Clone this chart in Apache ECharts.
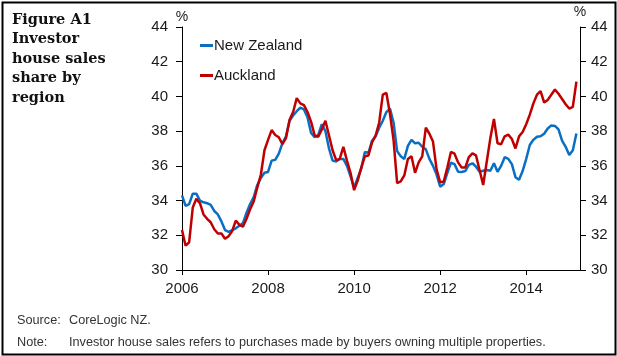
<!DOCTYPE html>
<html><head><meta charset="utf-8">
<script src="https://cdn.jsdelivr.net/npm/echarts@6/dist/echarts.min.js"></script>
<style>html,body{margin:0;padding:0;background:#fff}#c{width:617px;height:356px}</style>
</head><body><div id="c"></div>
<script>
// Monthly data, Jan 2006 .. Mar 2015
const startYear = 2006;
const titleLines = ['Figure A1', 'Investor', 'house sales', 'share by', 'region'];
const yearTicks = [2006, 2008, 2010, 2012, 2014];
const yTicks = [30, 32, 34, 36, 38, 40, 42, 44];
const newZealand = [
  34.3, 33.7, 33.8, 34.4, 34.4, 34.0, 33.9, 33.85, 33.75, 33.4,
  33.2, 32.8, 32.3, 32.2, 32.3, 32.4, 32.55, 32.7, 33.3, 33.8,
  34.2, 34.9, 35.3, 35.6, 35.65, 36.3, 36.35, 36.7, 37.3, 37.7,
  38.6, 38.9, 39.15, 39.35, 39.25, 38.8, 37.9, 37.65, 37.78, 38.4,
  38.0, 37.0, 36.3, 36.25, 36.4, 36.4, 36.0, 35.4, 34.75, 35.3,
  35.85, 36.8, 36.75, 37.45, 37.7, 38.2, 38.6, 39.1, 39.3, 38.5,
  36.85, 36.55, 36.4, 37.15, 37.5, 37.3, 37.33, 37.1, 36.95, 36.4,
  36.0, 35.5, 34.8, 34.95, 35.6, 36.18, 36.1, 35.66, 35.65, 35.7,
  36.05, 36.15, 35.95, 35.66, 35.72, 35.76, 35.72, 36.15, 35.66, 36.0,
  36.5, 36.4, 36.1, 35.35, 35.2, 35.7, 36.4, 37.2, 37.5, 37.68,
  37.7, 37.85, 38.15, 38.33, 38.3, 38.1, 37.45, 37.1, 36.63, 36.9, 37.87
];
const auckland = [
  32.3, 31.4, 31.6, 33.6, 34.1, 33.85, 33.2, 32.95, 32.75, 32.35,
  32.1, 32.1, 31.8, 31.95, 32.25, 32.85, 32.6, 32.5, 32.95, 33.5,
  33.95, 34.75, 35.5, 36.9, 37.5, 38.06, 37.78, 37.65, 37.25, 37.6,
  38.65, 39.1, 39.9, 39.6, 39.5, 39.1, 38.55, 37.75, 37.68, 38.1,
  38.6, 37.75, 36.9, 36.33, 36.4, 37.1, 36.3, 35.6, 34.6, 35.15,
  35.9, 36.55, 36.6, 37.35, 37.75, 38.5, 40.1, 40.2, 39.0, 37.5,
  35.0, 35.1, 35.45, 36.4, 36.55, 35.6, 36.2, 36.55, 38.2, 37.85,
  37.4, 35.8, 35.05, 35.1, 35.9, 36.8, 36.7, 36.2, 35.9, 35.9,
  36.5, 36.72, 36.6, 35.75, 34.9, 36.25, 37.6, 38.7, 37.3, 37.25,
  37.7, 37.8, 37.55, 37.0, 37.7, 37.95, 38.4, 38.95, 39.6, 40.1,
  40.3, 39.65, 39.8, 40.1, 40.4, 40.15, 39.85, 39.55, 39.3, 39.4, 40.85
];
const sourceText = 'CoreLogic NZ.';
const noteText = 'Investor house sales refers to purchases made by buyers owning multiple properties.';

const toPairs = arr => arr.map((v, i) => [startYear + i / 12, v]);

const chart = echarts.init(document.getElementById('c'), null, {renderer: 'canvas'});
const axisFont = {fontFamily: 'Liberation Sans, Arial, sans-serif', fontSize: 15, color: '#1a1a1a'};
const footFont = '12.7px "Liberation Sans", Arial, sans-serif';
const yAxisCommon = {
  type: 'value', min: 30, max: 44, interval: 2,
  name: '%', nameLocation: 'end', nameGap: 3,
  nameTextStyle: {fontFamily: 'Liberation Sans, Arial, sans-serif', fontSize: 14, color: '#1a1a1a'},
  axisLine: {show: true, lineStyle: {color: '#000', width: 1}},
  axisTick: {show: true, inside: false, length: 6, lineStyle: {color: '#000'}},
  splitLine: {show: false},
  axisLabel: Object.assign({}, axisFont, {customValues: yTicks})
};
chart.setOption({
  animation: false,
  grid: {left: 182, right: 37, top: 27, bottom: 86, containLabel: false},
  legend: {
    orient: 'vertical', left: 195, top: 33, itemGap: 15,
    itemWidth: 13, itemHeight: 3, icon: 'rect',
    textStyle: {fontFamily: 'Liberation Sans, Arial, sans-serif', fontSize: 15, color: '#1a1a1a', padding: [0, 0, 0, -4]},
    data: ['New Zealand', 'Auckland']
  },
  xAxis: {
    type: 'value', min: 2006, max: 2015.25,
    axisLine: {show: true, onZero: false, lineStyle: {color: '#000', width: 1}},
    axisTick: {show: true, length: 5, lineStyle: {color: '#000'}, customValues: yearTicks},
    axisLabel: Object.assign({}, axisFont, {margin: 11, customValues: yearTicks, formatter: v => String(v)}),
    splitLine: {show: false}
  },
  yAxis: [
    Object.assign({}, yAxisCommon, {position: 'left', axisLabel: Object.assign({}, yAxisCommon.axisLabel, {margin: 14})}),
    Object.assign({}, yAxisCommon, {position: 'right', axisLabel: Object.assign({}, yAxisCommon.axisLabel, {margin: 11})})
  ],
  series: [
    {name: 'New Zealand', type: 'line', data: toPairs(newZealand), showSymbol: false, symbol: 'none',
     lineStyle: {color: '#0a6fc2', width: 2.5}, itemStyle: {color: '#0a6fc2'}, z: 2},
    {name: 'Auckland', type: 'line', data: toPairs(auckland), showSymbol: false, symbol: 'none',
     lineStyle: {color: '#c00000', width: 2.5}, itemStyle: {color: '#c00000'}, z: 3}
  ],
  graphic: [
    {type: 'rect', left: 0, top: 0, shape: {x: 1, y: 1, width: 613, height: 352},
     style: {fill: 'none', stroke: '#000', lineWidth: 2}, silent: true},
    {type: 'text', left: 12, top: 10,
     style: {text: titleLines.join('\n'), font: 'bold 14.5px "DejaVu Serif", serif', lineHeight: 19.5, fill: '#111'}},
    {type: 'text', left: 17, top: 314, style: {text: 'Source:', font: footFont, fill: '#333'}},
    {type: 'text', left: 69, top: 314, style: {text: sourceText, font: footFont, fill: '#333'}},
    {type: 'text', left: 17, top: 336, style: {text: 'Note:', font: footFont, fill: '#333'}},
    {type: 'text', left: 69, top: 336, style: {text: noteText, font: footFont, fill: '#333'}}
  ]
});
</script></body></html>
